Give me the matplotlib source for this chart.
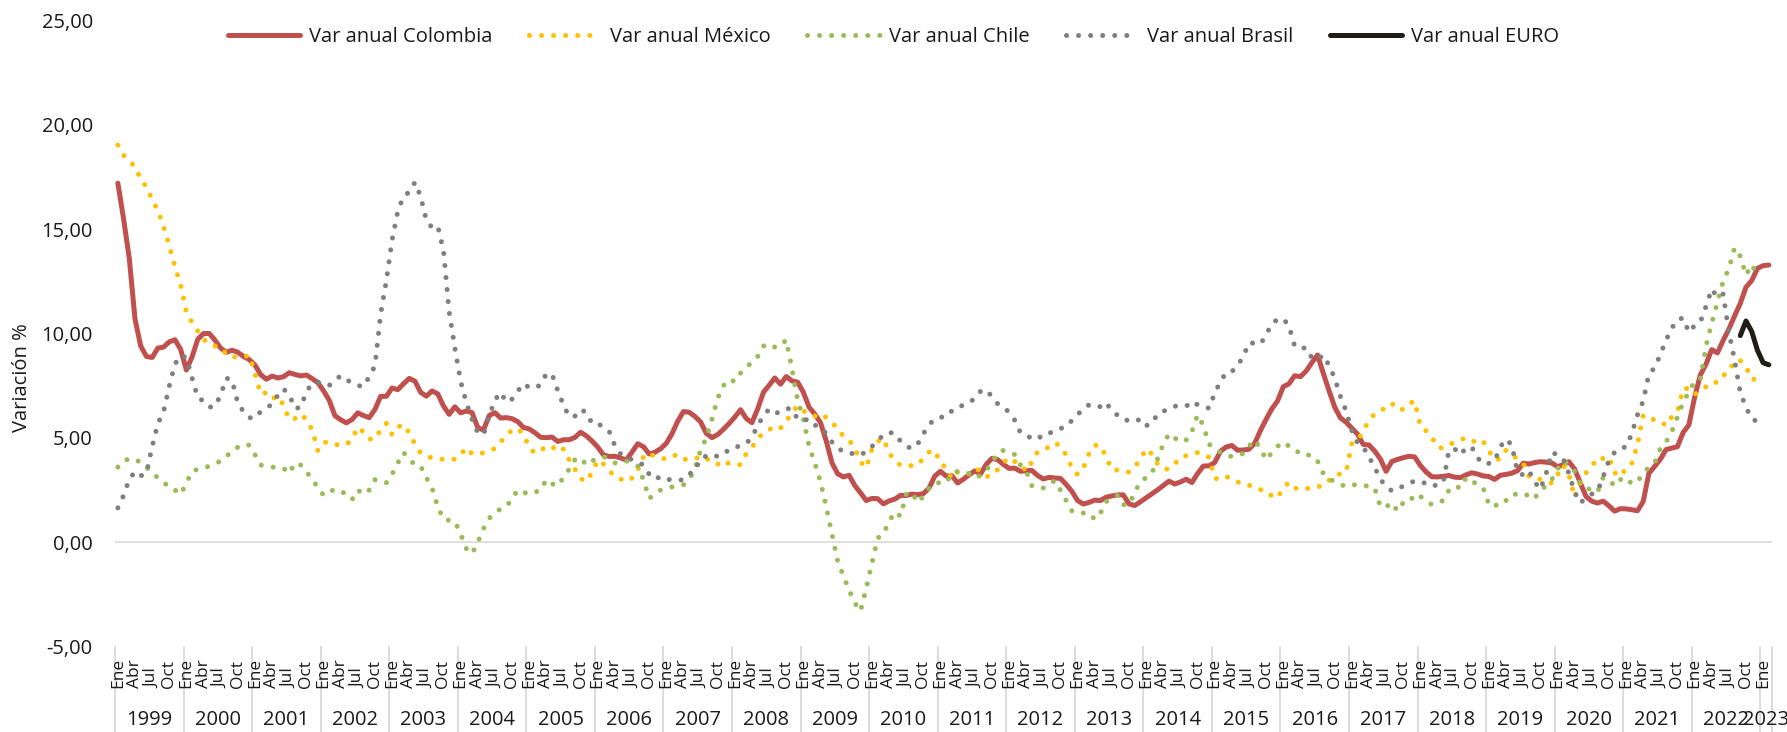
import numpy as np
import matplotlib.pyplot as plt
from matplotlib.ticker import FuncFormatter

plt.rcParams["font.family"] = ["Open Sans", "DejaVu Sans"]

# Variación anual mensual, ene-1999 en adelante
colombia = [
    17.20, 15.50, 13.60, 10.70, 9.40, 8.90, 8.85, 9.30, 9.35, 9.60, 9.70, 9.23,  # 1999
    8.25, 8.89, 9.73, 10.00, 10.00, 9.68, 9.30, 9.10, 9.20, 9.10, 8.90, 8.75,  # 2000
    8.49, 8.03, 7.81, 7.96, 7.87, 7.93, 8.12, 8.04, 7.97, 8.01, 7.84, 7.65,  # 2001
    7.26, 6.80, 6.06, 5.87, 5.72, 5.88, 6.20, 6.07, 5.97, 6.36, 6.99, 6.99,  # 2002
    7.39, 7.31, 7.59, 7.85, 7.72, 7.18, 7.00, 7.25, 7.11, 6.53, 6.13, 6.49,  # 2003
    6.20, 6.29, 6.21, 5.50, 5.37, 6.07, 6.21, 5.95, 5.97, 5.92, 5.78, 5.50,  # 2004
    5.43, 5.25, 5.03, 5.01, 5.04, 4.83, 4.91, 4.91, 5.02, 5.27, 5.10, 4.85,  # 2005
    4.56, 4.19, 4.11, 4.12, 4.04, 3.94, 4.32, 4.72, 4.58, 4.23, 4.31, 4.48,  # 2006
    4.74, 5.20, 5.80, 6.26, 6.23, 6.03, 5.77, 5.22, 5.01, 5.16, 5.41, 5.69,  # 2007
    6.00, 6.35, 5.93, 5.73, 6.39, 7.18, 7.52, 7.87, 7.57, 7.94, 7.73, 7.67,  # 2008
    7.18, 6.47, 6.14, 5.73, 4.85, 3.81, 3.28, 3.13, 3.21, 2.72, 2.37, 2.00,  # 2009
    2.10, 2.09, 1.84, 1.98, 2.07, 2.25, 2.24, 2.31, 2.28, 2.33, 2.60, 3.17,  # 2010
    3.40, 3.17, 3.19, 2.84, 3.02, 3.23, 3.42, 3.27, 3.73, 4.02, 3.96, 3.73,  # 2011
    3.54, 3.55, 3.40, 3.43, 3.44, 3.20, 3.03, 3.11, 3.08, 3.06, 2.77, 2.44,  # 2012
    2.00, 1.83, 1.91, 2.02, 2.00, 2.16, 2.22, 2.27, 2.27, 1.84, 1.76, 1.94,  # 2013
    2.13, 2.32, 2.51, 2.72, 2.93, 2.79, 2.89, 3.02, 2.86, 3.29, 3.65, 3.66,  # 2014
    3.82, 4.36, 4.56, 4.64, 4.41, 4.42, 4.46, 4.74, 5.35, 5.89, 6.39, 6.77,  # 2015
    7.45, 7.59, 7.98, 7.93, 8.20, 8.60, 8.97, 8.10, 7.27, 6.48, 5.96, 5.75,  # 2016
    5.47, 5.18, 4.69, 4.66, 4.37, 3.99, 3.40, 3.87, 3.97, 4.05, 4.12, 4.09,  # 2017
    3.68, 3.37, 3.14, 3.13, 3.16, 3.20, 3.12, 3.10, 3.23, 3.33, 3.27, 3.18,  # 2018
    3.15, 3.01, 3.21, 3.25, 3.31, 3.43, 3.79, 3.75, 3.82, 3.86, 3.84, 3.80,  # 2019
    3.62, 3.72, 3.86, 3.51, 2.85, 2.19, 1.97, 1.88, 1.97, 1.75, 1.49, 1.61,  # 2020
    1.60, 1.56, 1.51, 1.95, 3.30, 3.63, 3.97, 4.44, 4.51, 4.58, 5.26, 5.62,  # 2021
    6.94, 8.01, 8.53, 9.23, 9.07, 9.67, 10.21, 10.84, 11.44, 12.22, 12.53, 13.12,  # 2022
    13.25, 13.28,  # 2023
]

mexico = [
    19.02, 18.54, 18.25, 17.99, 17.39, 17.02, 16.42, 15.88, 15.13, 14.20, 13.20, 12.32,
    11.02, 10.52, 10.11, 9.73, 9.48, 9.41, 9.12, 9.10, 8.85, 8.91, 8.87, 8.96,
    8.11, 7.09, 7.17, 6.87, 7.00, 6.57, 5.88, 5.93, 6.14, 5.89, 5.39, 4.40,
    4.79, 4.79, 4.66, 4.70, 4.68, 4.94, 5.51, 5.29, 4.95, 4.94, 5.39, 5.70,
    5.16, 5.52, 5.64, 5.25, 4.70, 4.27, 4.13, 4.04, 4.04, 3.96, 3.98, 3.98,
    4.20, 4.53, 4.23, 4.21, 4.29, 4.37, 4.49, 4.82, 5.06, 5.40, 5.43, 5.19,
    4.54, 4.27, 4.39, 4.60, 4.60, 4.33, 4.47, 3.95, 3.51, 3.05, 2.91, 3.33,
    3.94, 3.75, 3.41, 3.20, 3.00, 3.18, 3.06, 3.47, 4.09, 4.29, 4.09, 4.05,
    3.98, 4.11, 4.21, 3.99, 3.95, 3.98, 4.14, 4.03, 3.79, 3.74, 3.93, 3.76,
    3.70, 3.72, 4.25, 4.55, 4.95, 5.26, 5.39, 5.57, 5.47, 5.78, 6.23, 6.53,
    6.28, 6.20, 6.04, 6.17, 5.98, 5.74, 5.44, 5.08, 4.89, 4.50, 3.86, 3.57,
    4.46, 4.83, 4.97, 4.27, 3.92, 3.69, 3.64, 3.68, 3.70, 4.02, 4.32, 4.40,
    3.78, 3.57, 3.04, 3.36, 3.25, 3.28, 3.55, 3.42, 3.14, 3.20, 3.48, 3.82,
    4.05, 3.87, 3.73, 3.41, 3.85, 4.34, 4.42, 4.57, 4.77, 4.60, 4.18, 3.57,
    3.25, 3.55, 4.25, 4.65, 4.63, 4.09, 3.47, 3.46, 3.39, 3.36, 3.62, 3.97,
    4.48, 4.23, 3.76, 3.50, 3.51, 3.75, 4.07, 4.15, 4.22, 4.30, 4.17, 4.08,
    3.07, 3.00, 3.14, 3.06, 2.88, 2.87, 2.74, 2.59, 2.52, 2.48, 2.21, 2.13,
    2.61, 2.87, 2.60, 2.54, 2.60, 2.54, 2.65, 2.73, 2.97, 3.06, 3.31, 3.36,
    4.72, 4.86, 5.35, 5.82, 6.16, 6.31, 6.44, 6.66, 6.35, 6.37, 6.63, 6.77,
    5.55, 5.34, 5.04, 4.55, 4.51, 4.65, 4.81, 4.90, 5.02, 4.90, 4.72, 4.83,
    4.37, 3.94, 4.00, 4.41, 4.28, 3.95, 3.78, 3.16, 3.00, 3.02, 2.97, 2.83,
    3.24, 3.70, 3.25, 2.15, 2.84, 3.33, 3.62, 4.05, 4.01, 4.09, 3.33, 3.15,
    3.54, 3.76, 4.67, 6.08, 5.89, 5.88, 5.81, 5.59, 6.00, 6.24, 7.37, 7.36,
    7.07, 7.28, 7.45, 7.68, 7.65, 7.99, 8.15, 8.70, 8.70, 8.41, 7.80, 7.82,
]

chile = [
    3.60, 3.90, 4.00, 4.00, 3.80, 3.60, 3.30, 3.10, 2.90, 2.60, 2.50, 2.30,
    2.85, 3.40, 3.50, 3.55, 3.65, 3.75, 3.90, 4.10, 4.40, 4.55, 4.70, 4.65,
    4.20, 3.70, 3.65, 3.60, 3.60, 3.55, 3.30, 3.80, 3.70, 3.40, 3.00, 2.65,
    2.25, 2.40, 2.55, 2.45, 2.30, 2.05, 2.50, 2.30, 2.50, 3.00, 2.90, 2.85,
    3.25, 3.80, 4.30, 4.00, 3.70, 3.65, 3.10, 2.60, 1.70, 1.10, 1.05, 1.00,
    0.40, -0.30, -0.55, 0.00, 0.65, 1.15, 1.40, 1.60, 1.70, 2.10, 2.50, 2.40,
    2.30, 2.40, 2.50, 3.00, 2.80, 2.70, 3.10, 3.50, 3.95, 4.05, 3.70, 3.90,
    4.00, 4.10, 4.00, 3.80, 3.85, 3.90, 3.75, 3.65, 3.00, 2.10, 2.30, 2.50,
    2.60, 2.65, 2.70, 2.75, 3.00, 3.50, 4.40, 5.00, 5.90, 6.90, 7.50, 7.80,
    7.70, 8.10, 8.40, 8.60, 8.90, 9.40, 9.50, 9.35, 9.40, 9.70, 8.30, 6.80,
    5.90, 4.60, 3.80, 2.90, 1.70, 0.40, -0.90, -1.60, -2.30, -2.90, -3.30, -2.20,
    -1.00, 0.20, 0.40, 1.00, 1.45, 1.25, 2.30, 2.40, 1.90, 2.20, 2.60, 2.85,
    2.85, 2.85, 3.30, 3.40, 3.30, 3.30, 3.10, 3.20, 3.45, 3.80, 4.30, 4.40,
    4.30, 4.20, 3.70, 3.40, 2.70, 2.60, 2.60, 2.80, 2.95, 2.50, 2.00, 1.50,
    1.40, 1.40, 1.40, 1.10, 1.40, 1.95, 2.10, 2.25, 1.80, 1.80, 2.40, 2.90,
    3.10, 3.30, 4.00, 4.70, 5.20, 5.00, 4.80, 4.90, 5.30, 6.10, 5.60, 4.70,
    4.50, 4.30, 4.20, 4.10, 4.15, 4.25, 4.60, 4.90, 4.50, 3.95, 4.30, 4.60,
    4.80, 4.60, 4.50, 4.20, 4.20, 4.15, 3.90, 3.30, 3.05, 2.90, 2.75, 2.70,
    2.80, 2.70, 2.70, 2.70, 2.60, 1.70, 1.70, 1.90, 1.50, 1.90, 1.90, 2.30,
    2.20, 2.00, 1.80, 1.90, 2.00, 2.50, 2.70, 2.60, 3.10, 2.90, 2.80, 2.60,
    1.80, 1.70, 2.00, 2.00, 2.30, 2.30, 2.20, 2.30, 2.10, 2.50, 2.70, 3.00,
    3.50, 3.90, 3.70, 3.40, 2.80, 2.60, 2.50, 2.40, 3.10, 3.00, 2.70, 3.00,
    3.10, 2.80, 2.90, 3.30, 3.60, 3.80, 4.50, 4.80, 5.30, 6.00, 6.70, 7.20,
    7.70, 7.80, 9.40, 10.50, 11.50, 12.50, 13.10, 14.10, 13.70, 12.80, 13.30, 12.80,
]

brasil = [
    1.65, 2.24, 3.02, 3.38, 3.18, 3.32, 4.57, 5.69, 6.25, 7.48, 8.54, 8.94,
    8.85, 7.86, 6.92, 6.77, 6.47, 6.51, 7.06, 7.86, 7.77, 6.66, 6.26, 5.97,
    5.94, 6.26, 6.44, 6.61, 7.04, 7.35, 7.06, 6.41, 6.46, 7.21, 7.61, 7.67,
    7.62, 7.51, 7.75, 7.98, 7.77, 7.66, 7.51, 7.46, 7.93, 8.45, 10.93, 12.53,
    14.47, 15.85, 16.57, 16.77, 17.24, 16.57, 15.43, 15.07, 15.14, 13.98, 11.02, 9.30,
    7.71, 6.69, 5.89, 5.26, 5.15, 6.06, 6.81, 7.18, 6.71, 6.86, 7.24, 7.60,
    7.41, 7.39, 7.54, 8.07, 8.05, 7.27, 6.57, 6.02, 6.04, 6.36, 6.22, 5.69,
    5.70, 5.51, 5.32, 4.63, 4.23, 4.03, 3.97, 3.84, 3.70, 3.26, 3.02, 3.14,
    2.99, 3.02, 2.96, 3.00, 3.18, 3.69, 3.74, 4.18, 4.15, 4.12, 4.19, 4.46,
    4.56, 4.61, 4.73, 5.04, 5.58, 6.06, 6.37, 6.17, 6.25, 6.41, 6.39, 5.90,
    5.84, 5.90, 5.61, 5.53, 5.20, 4.80, 4.50, 4.36, 4.34, 4.17, 4.22, 4.31,
    4.59, 4.83, 5.17, 5.26, 5.22, 4.84, 4.60, 4.49, 4.70, 5.20, 5.63, 5.91,
    5.99, 6.01, 6.30, 6.51, 6.55, 6.71, 6.87, 7.23, 7.31, 6.97, 6.64, 6.50,
    6.22, 5.85, 5.24, 5.10, 4.99, 4.92, 5.20, 5.24, 5.28, 5.45, 5.53, 5.84,
    6.15, 6.31, 6.59, 6.49, 6.50, 6.70, 6.27, 6.09, 5.86, 5.84, 5.77, 5.91,
    5.59, 5.68, 6.15, 6.28, 6.37, 6.52, 6.50, 6.51, 6.75, 6.59, 6.56, 6.41,
    7.14, 7.70, 8.13, 8.17, 8.47, 8.89, 9.56, 9.53, 9.49, 9.93, 10.48, 10.67,
    10.71, 10.36, 9.39, 9.28, 9.32, 8.84, 8.74, 8.97, 8.48, 7.87, 6.99, 6.29,
    5.35, 4.76, 4.57, 4.08, 3.60, 3.00, 2.71, 2.46, 2.54, 2.70, 2.80, 2.95,
    2.86, 2.84, 2.68, 2.76, 2.86, 4.39, 4.48, 4.19, 4.53, 4.56, 4.05, 3.75,
    3.78, 3.89, 4.58, 4.94, 4.66, 3.37, 3.22, 3.43, 2.89, 2.54, 3.27, 4.31,
    4.19, 4.01, 3.30, 2.40, 1.88, 2.13, 2.31, 2.44, 3.14, 3.92, 4.31, 4.52,
    4.56, 5.20, 6.10, 6.76, 8.06, 8.35, 8.99, 9.68, 10.25, 10.67, 10.74, 10.06,
    10.38, 10.54, 11.30, 12.13, 11.73, 11.89, 10.07, 8.73, 7.17, 6.47, 5.90, 5.79,
]

# Euro: sep-2022 a feb-2023
euro = [9.90, 10.60, 10.10, 9.20, 8.60, 8.50]
euro_inicio = (2022 - 1999) * 12 + 8

anios = [str(a) for a in range(1999, 2024)]
meses_etiqueta = {0: "Ene", 3: "Abr", 6: "Jul", 9: "Oct"}

n = len(colombia)
x = np.arange(n)

fig = plt.figure(figsize=(17.87, 7.32), dpi=100)
ax = fig.add_axes([0.06435, 0.11653, 0.92709, 0.85574])

gris_claro = "#D9D9D9"
texto = "#1a1a1a"
ax.axhline(0, color=gris_claro, lw=1.2, zorder=1)

punteado = dict(linestyle=(0, (0.01, 2.4)), dash_capstyle="round", lw=3.6)
ax.plot(x, colombia, color="#C0504D", lw=3.6, solid_capstyle="round",
        solid_joinstyle="round", label="Var anual Colombia", zorder=3)
ax.plot(np.arange(len(mexico)), mexico, color="#FFC000", label="Var anual México",
        zorder=4, **punteado)
ax.plot(np.arange(len(chile)), chile, color="#9BBB59", label="Var anual Chile",
        zorder=4, **punteado)
ax.plot(np.arange(len(brasil)), brasil, color="#7F7F7F", label="Var anual Brasil",
        zorder=4, **punteado)
ax.plot(np.arange(euro_inicio, euro_inicio + len(euro)), euro, color="#1F1D14",
        lw=3.6, solid_capstyle="round", solid_joinstyle="round",
        label="Var anual EURO", zorder=5)

ax.set_xlim(-0.5, n - 0.5)
ax.set_ylim(-5, 25)
ax.set_yticks(np.arange(-5, 26, 5))
ax.yaxis.set_major_formatter(FuncFormatter(lambda v, p: f"{v:.2f}".replace(".", ",")))
ax.tick_params(axis="y", length=0, pad=16, labelsize=14.5, labelcolor=texto)
ax.set_xticks([])
for s in ax.spines.values():
    s.set_visible(False)

# eje de categorías en dos niveles
trans = ax.get_xaxis_transform()
for i in range(n):
    m = i % 12
    if m in meses_etiqueta:
        ax.text(i, -0.0659, meses_etiqueta[m], transform=trans, rotation=90,
                ha="center", va="bottom", fontsize=12.5, color=texto)
bordes = list(range(0, n, 12)) + [n]
for b in bordes:
    ax.plot([b - 0.5, b - 0.5], [0, -0.14], transform=trans, color=gris_claro,
            lw=1.3, clip_on=False)
for k, anio in enumerate(anios):
    ini = k * 12
    fin = min(ini + 12, n)
    ax.text((ini + fin - 1) / 2, -0.117, anio, transform=trans, ha="center",
            va="center", fontsize=14.5, color=texto)

fig.text(22 / 1787, 1 - 378 / 732, "Variación %", rotation=90, ha="center",
         va="center", fontsize=14.5, color=texto)

fig.legend(loc="center", bbox_to_anchor=(0.5, 1 - 37 / 732), ncol=5, frameon=False,
           fontsize=14.5, handlelength=3.6, handletextpad=0.45, columnspacing=1.8,
           labelcolor=texto)

fig.savefig("out.png", dpi=100)
